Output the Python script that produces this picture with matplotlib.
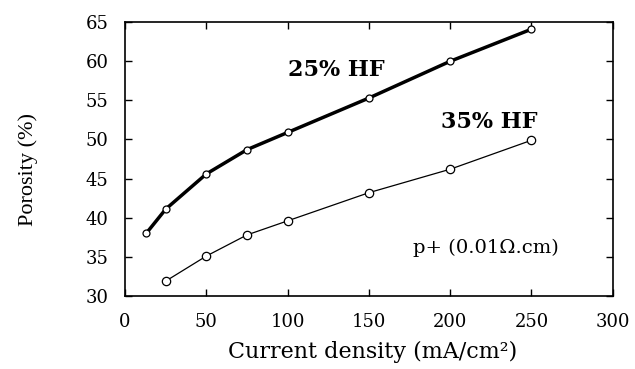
import matplotlib
matplotlib.use("Agg")
import matplotlib.pyplot as plt

# Porosity vs anodisation current density for p+ silicon
current_25 = [13, 25, 50, 75, 100, 150, 200, 250]
porosity_25 = [38.0, 41.1, 45.6, 48.7, 50.9, 55.3, 60.0, 64.1]

current_35 = [25, 50, 75, 100, 150, 200, 250]
porosity_35 = [31.9, 35.1, 37.8, 39.6, 43.2, 46.2, 49.9]

xticks = [0, 50, 100, 150, 200, 250, 300]
yticks = [30, 35, 40, 45, 50, 55, 60, 65]

plt.rcParams['font.family'] = ['DejaVu Serif']

fig = plt.figure(figsize=(6.35, 3.69), dpi=100)
ax = fig.add_axes([0.197, 0.198, 0.768, 0.742])

ax.plot(current_25, porosity_25, color='black', lw=2.5, marker='o', ms=5,
        mfc='white', mec='black', mew=0.9, zorder=3)
ax.plot(current_35, porosity_35, color='black', lw=0.9, marker='o', ms=6,
        mfc='white', mec='black', mew=0.9, zorder=3)

ax.set_xlim(0, 300)
ax.set_ylim(30, 65)
ax.set_xticks(xticks)
ax.set_yticks(yticks)
ax.tick_params(direction='in', top=True, right=True, length=5, width=1.0,
               labelsize=13)
ax.tick_params(axis='y', pad=12)
ax.tick_params(axis='x', pad=12)
for s in ax.spines.values():
    s.set_linewidth(1.2)

ax.text(130, 58.9, '25% HF', fontsize=16, fontweight='bold', ha='center', va='center')
ax.text(224, 52.2, '35% HF', fontsize=16, fontweight='bold', ha='center', va='center')
ax.text(222, 36.1, 'p+ (0.01\u03a9.cm)', fontsize=14, ha='center', va='center')

ax.set_xlabel('Current density (mA/cm\u00b2)', fontsize=16)
ax.xaxis.set_label_coords(0.508, -0.165)
ax.set_ylabel('Porosity (%)', fontsize=16, family='Liberation Serif')
ax.yaxis.set_label_coords(-0.178, 0.46)

fig.savefig('out.png', dpi=100)
